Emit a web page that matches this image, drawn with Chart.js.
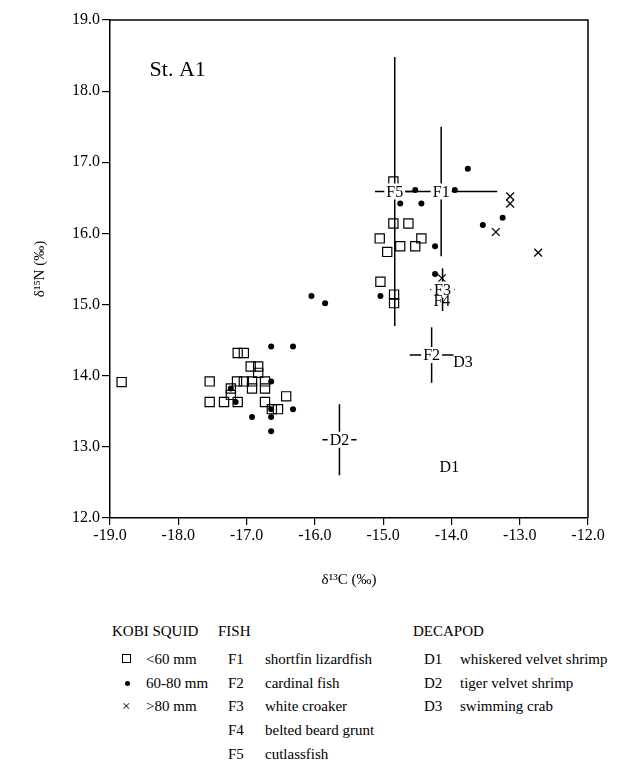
<!DOCTYPE html>
<html>
<head>
<meta charset="utf-8">
<script src="https://cdn.jsdelivr.net/npm/chart.js@4"></script>
<style>
  body { margin: 0; background: #fff; font-family: 'Liberation Serif', serif; color: #000; }
  #wrap { position: relative; width: 619px; height: 766px; }
  canvas { position: absolute; left: 0; top: 0; }
  .lg { position: absolute; font-size: 15px; line-height: 16px; white-space: nowrap; }
  .sq { position: absolute; width: 7px; height: 7px; border: 1.2px solid #000; }
  .dot { position: absolute; width: 5px; height: 5px; border-radius: 50%; background: #000; }
</style>
</head>
<body>
<div id="wrap">
  <canvas id="c" width="619" height="600"></canvas>
  <div id="legend"></div>
</div>
<script>
// kobi squid (d13C, d15N)
const squidSmall = [
  [-18.83, 13.91], [-17.54, 13.92], [-17.54, 13.63], [-17.33, 13.63], [-17.13, 13.63],
  [-17.23, 13.82], [-17.23, 13.73], [-17.13, 14.32], [-17.04, 14.32], [-16.94, 14.13],
  [-16.83, 14.13], [-16.83, 14.04], [-17.14, 13.92], [-17.04, 13.92], [-16.92, 13.92],
  [-16.73, 13.92], [-16.92, 13.82], [-16.73, 13.82], [-16.73, 13.63], [-16.63, 13.53],
  [-16.54, 13.53], [-16.42, 13.71],
  [-14.85, 16.73], [-14.85, 16.14], [-14.63, 16.14], [-15.05, 15.93], [-14.94, 15.74],
  [-14.75, 15.82], [-14.53, 15.82], [-14.44, 15.93], [-15.04, 15.32], [-14.84, 15.14],
  [-14.84, 15.02]
];
const squidMid = [
  [-16.64, 14.41], [-16.32, 14.41], [-16.64, 13.92], [-17.23, 13.82], [-17.16, 13.63],
  [-16.64, 13.53], [-16.32, 13.53], [-16.92, 13.42], [-16.64, 13.42], [-16.64, 13.22],
  [-16.05, 15.12], [-15.85, 15.02],
  [-13.76, 16.91], [-14.53, 16.61], [-13.95, 16.61], [-14.75, 16.42], [-14.44, 16.42],
  [-13.25, 16.22], [-13.54, 16.12], [-14.24, 15.82], [-14.24, 15.43], [-15.04, 15.12]
];
const squidLarge = [
  [-13.14, 16.52], [-13.14, 16.42], [-13.35, 16.02], [-12.73, 15.73], [-14.14, 15.37]
];

// prey means and spread
const preyLabels = ['F1', 'F2', 'F3', 'F4', 'F5', 'D1', 'D2', 'D3'];
const preyC = [-14.15, -14.29, -14.13, -14.14, -14.83, -14.03, -15.64, -13.83];
const preyN = [16.59, 14.29, 15.21, 15.05, 16.59, 12.72, 13.10, 14.19];
const preyCsd = [0.82, 0.32, 0.18, 0, 0.29, 0, 0.25, 0];
const preyNsd = [0.91, 0.39, 0.30, 0, 1.89, 0, 0.50, 0];

const xTicks = [-19, -18, -17, -16, -15, -14, -13, -12];
const yTicks = [12, 13, 14, 15, 16, 17, 18, 19];

const toPts = arr => arr.map(p => ({ x: p[0], y: p[1] }));

const datasets = [];
preyLabels.forEach((lab, i) => {
  if (preyNsd[i] > 0) {
    datasets.push({
      type: 'line', data: [{ x: preyC[i], y: preyN[i] - preyNsd[i] }, { x: preyC[i], y: preyN[i] + preyNsd[i] }],
      borderColor: '#000', borderWidth: 1.5, pointRadius: 0, fill: false
    });
  }
  if (preyCsd[i] > 0) {
    datasets.push({
      type: 'line', data: [{ x: preyC[i] - preyCsd[i], y: preyN[i] }, { x: preyC[i] + preyCsd[i], y: preyN[i] }],
      borderColor: '#000', borderWidth: lab === 'F3' ? 1.2 : 1.5, borderDash: lab === 'F3' ? [1, 3] : [],
      pointRadius: 0, fill: false
    });
  }
});
datasets.push(
  { data: toPts(squidSmall), pointStyle: 'rect', pointRadius: 6.5, borderColor: '#000', borderWidth: 1.2, backgroundColor: 'rgba(0,0,0,0)' },
  { data: toPts(squidMid), pointStyle: 'circle', pointRadius: 3, borderColor: '#000', borderWidth: 0, backgroundColor: '#000' },
  { data: toPts(squidLarge), pointStyle: 'crossRot', pointRadius: 5.5, borderColor: '#000', borderWidth: 1.3 }
);

const serif = "'Liberation Serif', serif";

const extras = {
  id: 'extras',
  afterDatasetsDraw(chart) {
    const { ctx, chartArea: a, scales } = chart;
    ctx.save();
    ctx.strokeStyle = '#000';
    ctx.lineWidth = 1.5;
    ctx.beginPath();
    ctx.moveTo(a.left, a.top);
    ctx.lineTo(a.right, a.top);
    ctx.lineTo(a.right, a.bottom);
    ctx.stroke();
    ctx.font = '16px ' + serif;
    ctx.textAlign = 'center';
    ctx.textBaseline = 'middle';
    preyLabels.forEach((lab, i) => {
      const px = scales.x.getPixelForValue(preyC[i]);
      const py = scales.y.getPixelForValue(preyN[i]);
      const w = ctx.measureText(lab).width;
      if (preyCsd[i] > 0 || preyNsd[i] > 0) {
        ctx.fillStyle = '#fff';
        ctx.fillRect(px - w / 2 - 2, py - 8, w + 4, 16);
      }
      ctx.fillStyle = '#000';
      ctx.fillText(lab, px, py + 1);
    });
    ctx.font = '22px ' + serif;
    ctx.textAlign = 'left';
    ctx.fillText('St. A1', scales.x.getPixelForValue(-18.42), scales.y.getPixelForValue(18.3));
    ctx.restore();
  }
};

new Chart(document.getElementById('c'), {
  type: 'scatter',
  data: { datasets },
  plugins: [extras],
  options: {
    responsive: false,
    animation: false,
    layout: { padding: { top: 20, right: 31, left: 0, bottom: 0 } },
    plugins: { legend: { display: false }, tooltip: { enabled: false } },
    scales: {
      x: {
        type: 'linear', min: -19, max: -12,
        afterBuildTicks: s => { s.ticks = xTicks.map(v => ({ value: v })); },
        afterFit: s => { s.height = 82; },
        ticks: { callback: v => v.toFixed(1), color: '#000', font: { family: serif, size: 16 }, padding: 1, maxRotation: 0 },
        grid: { drawOnChartArea: false, tickLength: 7, color: '#000', lineWidth: 1.2 },
        border: { color: '#000', width: 1.5 },
        title: { display: true, text: 'δ¹³C (‰)', color: '#000', font: { family: serif, size: 15 }, padding: { top: 0, bottom: 11 } }
      },
      y: {
        type: 'linear', min: 12, max: 19,
        afterBuildTicks: s => { s.ticks = yTicks.map(v => ({ value: v })); },
        afterFit: s => { s.width = 110; },
        ticks: { callback: v => v.toFixed(1), color: '#000', font: { family: serif, size: 16 }, padding: 2 },
        grid: { drawOnChartArea: false, tickLength: 8, color: '#000', lineWidth: 1.2 },
        border: { color: '#000', width: 1.5 },
        title: { display: true, text: 'δ¹⁵N (‰)', color: '#000', font: { family: serif, size: 15 }, padding: { top: 31, bottom: 0 } }
      }
    }
  }
});

// legend below the plot
const squidSizes = ['<60 mm', '60-80 mm', '>80 mm'];
const fishNames = ['shortfin lizardfish', 'cardinal fish', 'white croaker', 'belted beard grunt', 'cutlassfish'];
const decapodNames = ['whiskered velvet shrimp', 'tiger velvet shrimp', 'swimming crab'];
const rowY = [659, 683, 706, 730, 754];

const lg = document.getElementById('legend');
function put(text, x, yc) {
  const d = document.createElement('div');
  d.className = 'lg';
  d.textContent = text;
  d.style.left = x + 'px';
  d.style.top = (yc - 8) + 'px';
  lg.appendChild(d);
}
put('KOBI SQUID', 112, 631);
put('FISH', 218, 631);
put('DECAPOD', 413, 631);
squidSizes.forEach((t, i) => put(t, 146, rowY[i]));
const sq = document.createElement('div');
sq.className = 'sq'; sq.style.left = '122px'; sq.style.top = (rowY[0] - 5) + 'px';
lg.appendChild(sq);
const dt = document.createElement('div');
dt.className = 'dot'; dt.style.left = '125px'; dt.style.top = (rowY[1] - 2) + 'px';
lg.appendChild(dt);
put('×', 122, rowY[2]);
fishNames.forEach((t, i) => { put('F' + (i + 1), 228, rowY[i]); put(t, 265, rowY[i]); });
decapodNames.forEach((t, i) => { put('D' + (i + 1), 424, rowY[i]); put(t, 460, rowY[i]); });
</script>
</body>
</html>
